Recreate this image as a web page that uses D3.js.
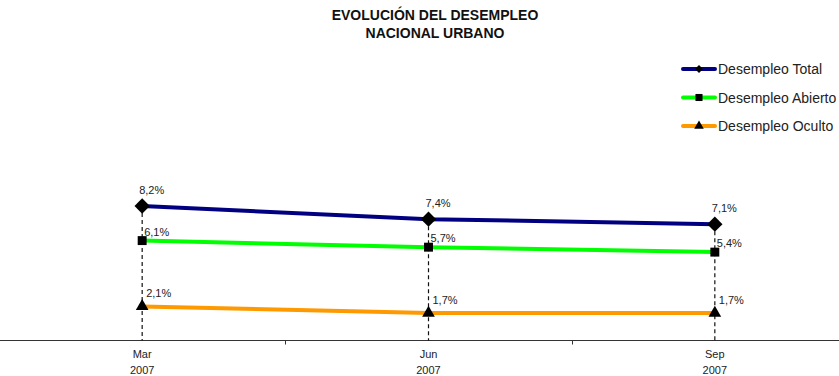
<!DOCTYPE html>
<html>
<head>
<meta charset="utf-8">
<script src="https://cdn.jsdelivr.net/npm/d3@7/dist/d3.min.js"></script>
<style>
  html, body { margin: 0; padding: 0; background: #fff; }
  svg { display: block; font-family: "Liberation Sans", Arial, sans-serif; }
</style>
</head>
<body>
<svg id="chart" width="839" height="376"></svg>
<script>
// Trimestres y tasas de desempleo (%)
const periods = ["Mar", "Jun", "Sep"];
const years = ["2007", "2007", "2007"];
const totalValues = [8.2, 7.4, 7.1];
const abiertoValues = [6.1, 5.7, 5.4];
const ocultoValues = [2.1, 1.7, 1.7];
const seriesNames = ["Desempleo Total", "Desempleo Abierto", "Desempleo Oculto"];
const titleLines = ["EVOLUCIÓN DEL DESEMPLEO", "NACIONAL URBANO"];

const series = [
  { name: seriesNames[0], values: totalValues, color: "#000080", marker: "diamond" },
  { name: seriesNames[1], values: abiertoValues, color: "#00ff00", marker: "square" },
  { name: seriesNames[2], values: ocultoValues, color: "#ff9900", marker: "triangle" }
];

const svg = d3.select("#chart");
const fmt = v => d3.format(".1f")(v).replace(".", ",") + "%";

const x = d3.scaleBand().domain(periods).range([-1, 858]).padding(0);
const cx = p => x(p) + x.bandwidth() / 2;
const y = d3.scaleLinear().domain([0, 10]).range([341, 176.4]);
const axisY = 340.5;

// Título
svg.append("g").selectAll("text").data(titleLines).join("text")
  .attr("x", 435).attr("y", (d, i) => 20 + i * 18)
  .attr("text-anchor", "middle")
  .attr("font-size", 14).attr("font-weight", "bold").attr("fill", "#111")
  .text(d => d);

// Eje horizontal
svg.append("line")
  .attr("x1", 0).attr("x2", 839).attr("y1", axisY).attr("y2", axisY)
  .attr("stroke", "#333").attr("stroke-width", 1.2);

svg.append("g").selectAll("line").data(periods.slice(1)).join("line")
  .attr("x1", d => Math.round(x(d)) + 0.5).attr("x2", d => Math.round(x(d)) + 0.5)
  .attr("y1", axisY).attr("y2", axisY + 4)
  .attr("stroke", "#333");

const xl = svg.append("g").selectAll("text").data(periods).join("text")
  .attr("text-anchor", "middle").attr("font-size", 11).attr("fill", "#222");
xl.append("tspan").attr("x", d => cx(d)).attr("y", 358).text(d => d);
xl.append("tspan").attr("x", d => cx(d)).attr("y", 374).text((d, i) => years[i]);

// Líneas de referencia verticales
svg.append("g").selectAll("line").data(periods).join("line")
  .attr("x1", d => cx(d)).attr("x2", d => cx(d))
  .attr("y1", (d, i) => y(totalValues[i])).attr("y2", axisY)
  .attr("stroke", "#111").attr("stroke-width", 1.2)
  .attr("stroke-dasharray", "4,3");

const symbolType = {
  diamond: d3.symbolDiamond2 || d3.symbolDiamond,
  square: d3.symbolSquare,
  triangle: d3.symbolTriangle
};
const markerSize = { diamond: 150, square: 80, triangle: 70 };
const legendSize = { diamond: 40, square: 50, triangle: 40 };

const line = d3.line().x(d => cx(d.p)).y(d => y(d.v));

series.forEach(s => {
  const pts = periods.map((p, i) => ({ p, v: s.values[i] }));
  svg.append("path").datum(pts)
    .attr("d", line).attr("fill", "none")
    .attr("stroke", s.color).attr("stroke-width", 4);
  svg.append("g").selectAll("path").data(pts).join("path")
    .attr("transform", d => `translate(${cx(d.p)},${y(d.v)})`)
    .attr("d", d3.symbol().type(symbolType[s.marker]).size(markerSize[s.marker]))
    .attr("fill", "#000");
});

// Etiquetas de valores
const labels = svg.append("g").attr("font-size", 11).attr("fill", "#222");
labels.selectAll("text.t").data(periods).join("text").attr("class", "t")
  .attr("x", d => cx(d) - 3).attr("y", (d, i) => y(totalValues[i]) - 12)
  .text((d, i) => fmt(totalValues[i]));
labels.selectAll("text.a").data(periods).join("text").attr("class", "a")
  .attr("x", d => cx(d) + 2).attr("y", (d, i) => y(abiertoValues[i]) - 5)
  .text((d, i) => fmt(abiertoValues[i]));
labels.selectAll("text.o").data(periods).join("text").attr("class", "o")
  .attr("x", d => cx(d) + 4).attr("y", (d, i) => y(ocultoValues[i]) - 9)
  .text((d, i) => fmt(ocultoValues[i]));

// Leyenda
const legend = svg.append("g").selectAll("g").data(series).join("g")
  .attr("transform", (d, i) => `translate(683,${69 + i * 28.5})`);
legend.append("line")
  .attr("x1", 0).attr("x2", 32).attr("y1", 0).attr("y2", 0)
  .attr("stroke", d => d.color).attr("stroke-width", 4).attr("stroke-linecap", "round");
legend.append("path")
  .attr("transform", "translate(16,0)")
  .attr("d", d => d3.symbol().type(symbolType[d.marker]).size(legendSize[d.marker])())
  .attr("fill", "#000");
legend.append("text")
  .attr("x", 35).attr("y", 5)
  .attr("font-size", 14).attr("fill", "#222")
  .text(d => d.name);
</script>
</body>
</html>
